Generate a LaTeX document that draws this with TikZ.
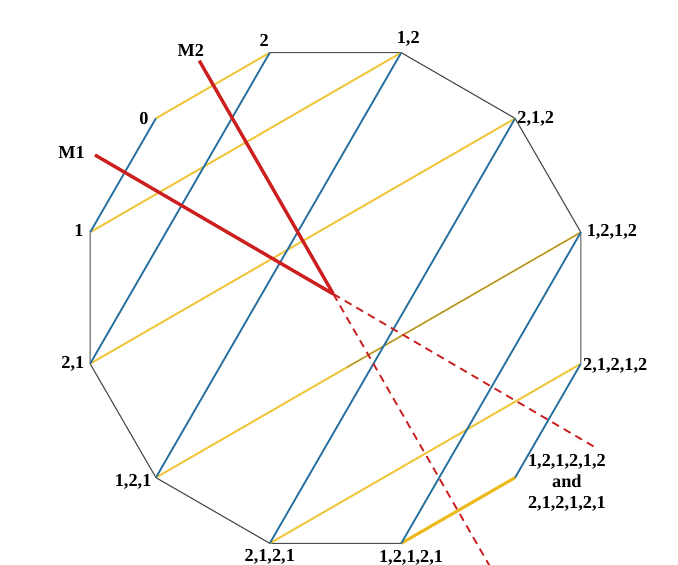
\documentclass[tikz,border=0pt]{standalone}
\usepackage{fontspec}
\setmainfont{Liberation Serif}
\usetikzlibrary{positioning,calc}
\definecolor{refblue}{RGB}{40,112,160}
\definecolor{refyellow}{RGB}{240,198,60}
\definecolor{refgold}{RGB}{236,186,30}
\definecolor{refred}{RGB}{204,32,32}
\tikzset{%
  rim/.style      = {draw=black!70, line width=0.8pt},%
  yline/.style    = {draw=refyellow, line width=1.4pt},%
  bline/.style    = {draw=refblue, line width=1.3pt},%
  mirror/.style   = {draw=refred, line width=2.4pt},%
  mirrorext/.style= {draw=refred, line width=1.3pt, dash pattern=on 5.5pt off 4pt},%
  lbl/.style      = {inner sep=0pt, font=\bfseries\fontsize{13}{15}\selectfont, align=center}%
}
\begin{document}
\begin{tikzpicture}
	\useasboundingbox (-8.3875,-6.675) rectangle (8.5625,7.45);%
	% vertices of the 12-gon
	\foreach \vname/\ang in {v0/135, v2/105, v12/75, v212/45, v1212/15, v21212/-15,%
		v121212/-45, v12121/-75, v2121/-105, v121/-135, v21/-165, v1/165}
		\coordinate (\vname) at (\ang:6.35);%
	% mirrors
	\coordinate (mc) at (-0.055,0.1);%
	\coordinate (m1a) at (-6.0125,3.575);%
	\coordinate (m1b) at (6.5625,-3.775);%
	\coordinate (m2a) at (-3.405,5.9325);%
	\coordinate (m2b) at (3.9125,-6.8);%
	% outline
	\draw[rim] (v1) -- (v21) -- (v121) -- (v2121) -- (v12121);%
	\draw[rim] (v2) -- (v12) -- (v212) -- (v1212) -- (v21212);%
	% yellow chords
	\draw[yline] (v0) -- (v2);%
	\draw[yline] (v1) -- (v12);%
	\draw[yline] (v21) -- (v212);%
	\draw[yline] (v121) -- (v1212);%
	\draw[black!70, line width=0.25pt] ($(v121)!0.45!(v1212)$) -- (v1212);%
	\draw[yline] (v2121) -- (v21212);%
	\draw[yline, draw=refgold, line width=2.2pt] (v12121) -- (v121212);%
	% blue chords
	\draw[bline] (v0) -- (v1);%
	\draw[bline] (v2) -- (v21);%
	\draw[bline] (v12) -- (v121);%
	\draw[bline] (v212) -- (v2121);%
	\draw[bline] (v1212) -- (v12121);%
	\draw[bline] (v21212) -- (v121212);%
	% red mirror lines
	\draw[mirrorext] (mc) -- (m1b);%
	\draw[mirrorext] (mc) -- (m2b);%
	\draw[mirror] (m1a) -- (mc);%
	\draw[mirror] (m2a) -- (mc);%
	% labels
	\node[lbl, left=5pt of v0] (l0) {0};%
	\node[lbl, left=4.5pt of v1, yshift=1.5pt] (l1) {1};%
	\node[lbl, above=4pt of v2, xshift=-4pt] (l2) {2};%
	\node[lbl, above=4pt of v12, xshift=5pt] (l12) {1,2};%
	\node[lbl, right=1.5pt of v212] (l212) {2,1,2};%
	\node[lbl, right=4pt of v1212] (l1212) {1,2,1,2};%
	\node[lbl, right=1.5pt of v21212, yshift=-1.5pt] (l21212) {2,1,2,1,2};%
	\node[lbl, right=9pt of v121212, yshift=-4pt] (l121212) {1,2,1,2,1,2\\and\\2,1,2,1,2,1};%
	\node[lbl, below=4.5pt of v12121, xshift=7pt] (l12121) {1,2,1,2,1};%
	\node[lbl, below=4pt of v2121] (l2121) {2,1,2,1};%
	\node[lbl, left=3pt of v121, yshift=-3pt] (l121) {1,2,1};%
	\node[lbl, left=4pt of v21] (l21) {2,1};%
	\node[lbl, left=7pt of m1a, yshift=2pt] (lm1) {M1};%
	\node[lbl, above=3pt of m2a, xshift=-6pt] (lm2) {M2};%
\end{tikzpicture}
\end{document}
